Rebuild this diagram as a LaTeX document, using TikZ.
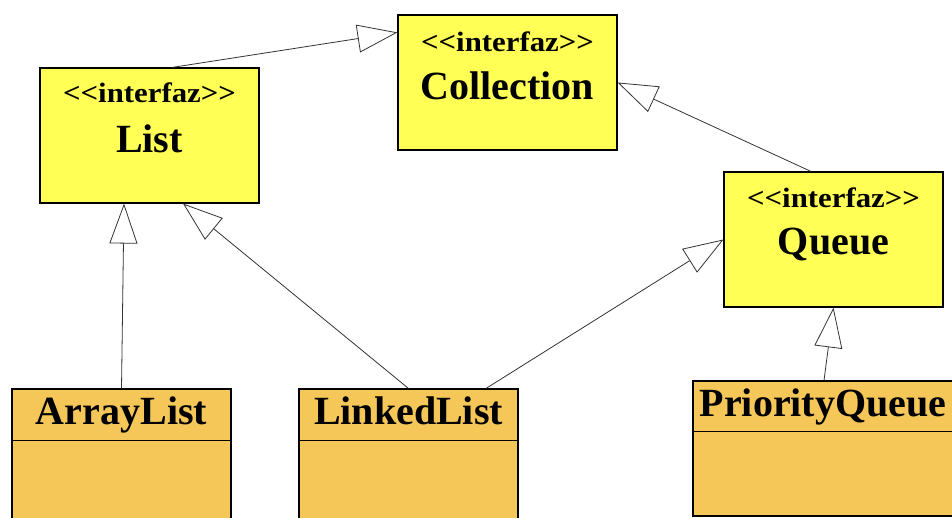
\documentclass[tikz,border=0pt]{standalone}
\usepackage{fontspec}
\setmainfont{Liberation Serif}
\newfontfamily\stereofont[FakeStretch=1.1, Ligatures=TeXOff]{Liberation Serif}
\usetikzlibrary{arrows.meta}
\definecolor{ifyellow}{RGB}{255,255,85}
\definecolor{clorange}{RGB}{245,198,88}
\begin{document}
\begin{tikzpicture}[x=1pt, y=-1pt,
        iface/.style={draw, line width=1.1pt, fill=ifyellow, minimum width=219pt, minimum height=135pt, inner sep=0pt},
        cls/.style={draw, line width=1.1pt, fill=clorange, inner sep=0pt},
        stereo/.style={anchor=base, font=\stereofont\bfseries\fontsize{28}{30}\selectfont},
        clsname/.style={anchor=base, font=\bfseries\fontsize{40}{44}\selectfont},
        ext/.style={draw=black!80, line width=0.8pt, -{Triangle[open, length=40pt, width=28pt]}}]
            \clip (0,0) rectangle (952,518);
            \fill[white] (0,0) rectangle (952,518);

            \node[iface] (list) at (149.5,135.5) {};
            \node[iface] (coll) at (507.5,82.5) {};
            \node[iface] (queue) at (833.5,239.5) {};

            \node[stereo] (list1) at ([yshift=-35pt]list.north) {<<interfaz>>};
            \node[clsname] (list2) at ([yshift=-85pt]list.north) {List};
            \node[stereo] (coll1) at ([yshift=-37pt]coll.north) {<<interfaz>>};
            \node[clsname] (coll2) at ([yshift=-85pt]coll.north) {Collection};
            \node[stereo] (queue1) at ([yshift=-36pt]queue.north) {<<interfaz>>};
            \node[clsname] (queue2) at ([yshift=-83pt]queue.north) {Queue};

            \node[cls, minimum width=219pt, minimum height=160pt] (al) at (121.5,469) {};
            \node[cls, minimum width=219pt, minimum height=160pt] (ll) at (408.5,469) {};
            \node[cls, minimum width=270pt, minimum height=135pt] (pq) at (828,448.5) {};

            \draw[line width=1.1pt] ([yshift=-52pt]al.north west) -- ([yshift=-52pt]al.north east);
            \draw[line width=1.1pt] ([yshift=-52pt]ll.north west) -- ([yshift=-52pt]ll.north east);
            \draw[line width=1.1pt] ([yshift=-51pt]pq.north west) -- ([yshift=-51pt]pq.north east);

            \node[clsname] (al1) at ([yshift=-36pt]al.north) {ArrayList};
            \node[clsname] (ll1) at ([yshift=-36pt]ll.north) {LinkedList};
            \node[clsname] (pq1) at ([xshift=-5pt, yshift=-36pt]pq.north) {PriorityQueue};

            \draw[ext] ([xshift=22.5pt]list.north) -- ([yshift=-18pt]coll.north west);
            \draw[ext] ([xshift=-22.5pt]queue.north) -- (coll.east);
            \draw[ext] (al.north) -- ([xshift=-25.5pt]list.south);
            \draw[ext] (ll.north) -- ([xshift=33.5pt]list.south);
            \draw[ext] ([xshift=77.5pt]ll.north) -- (queue.west);
            \draw[ext] ([xshift=-4pt]pq.north) -- (queue.south);
        \end{tikzpicture}
\end{document}
